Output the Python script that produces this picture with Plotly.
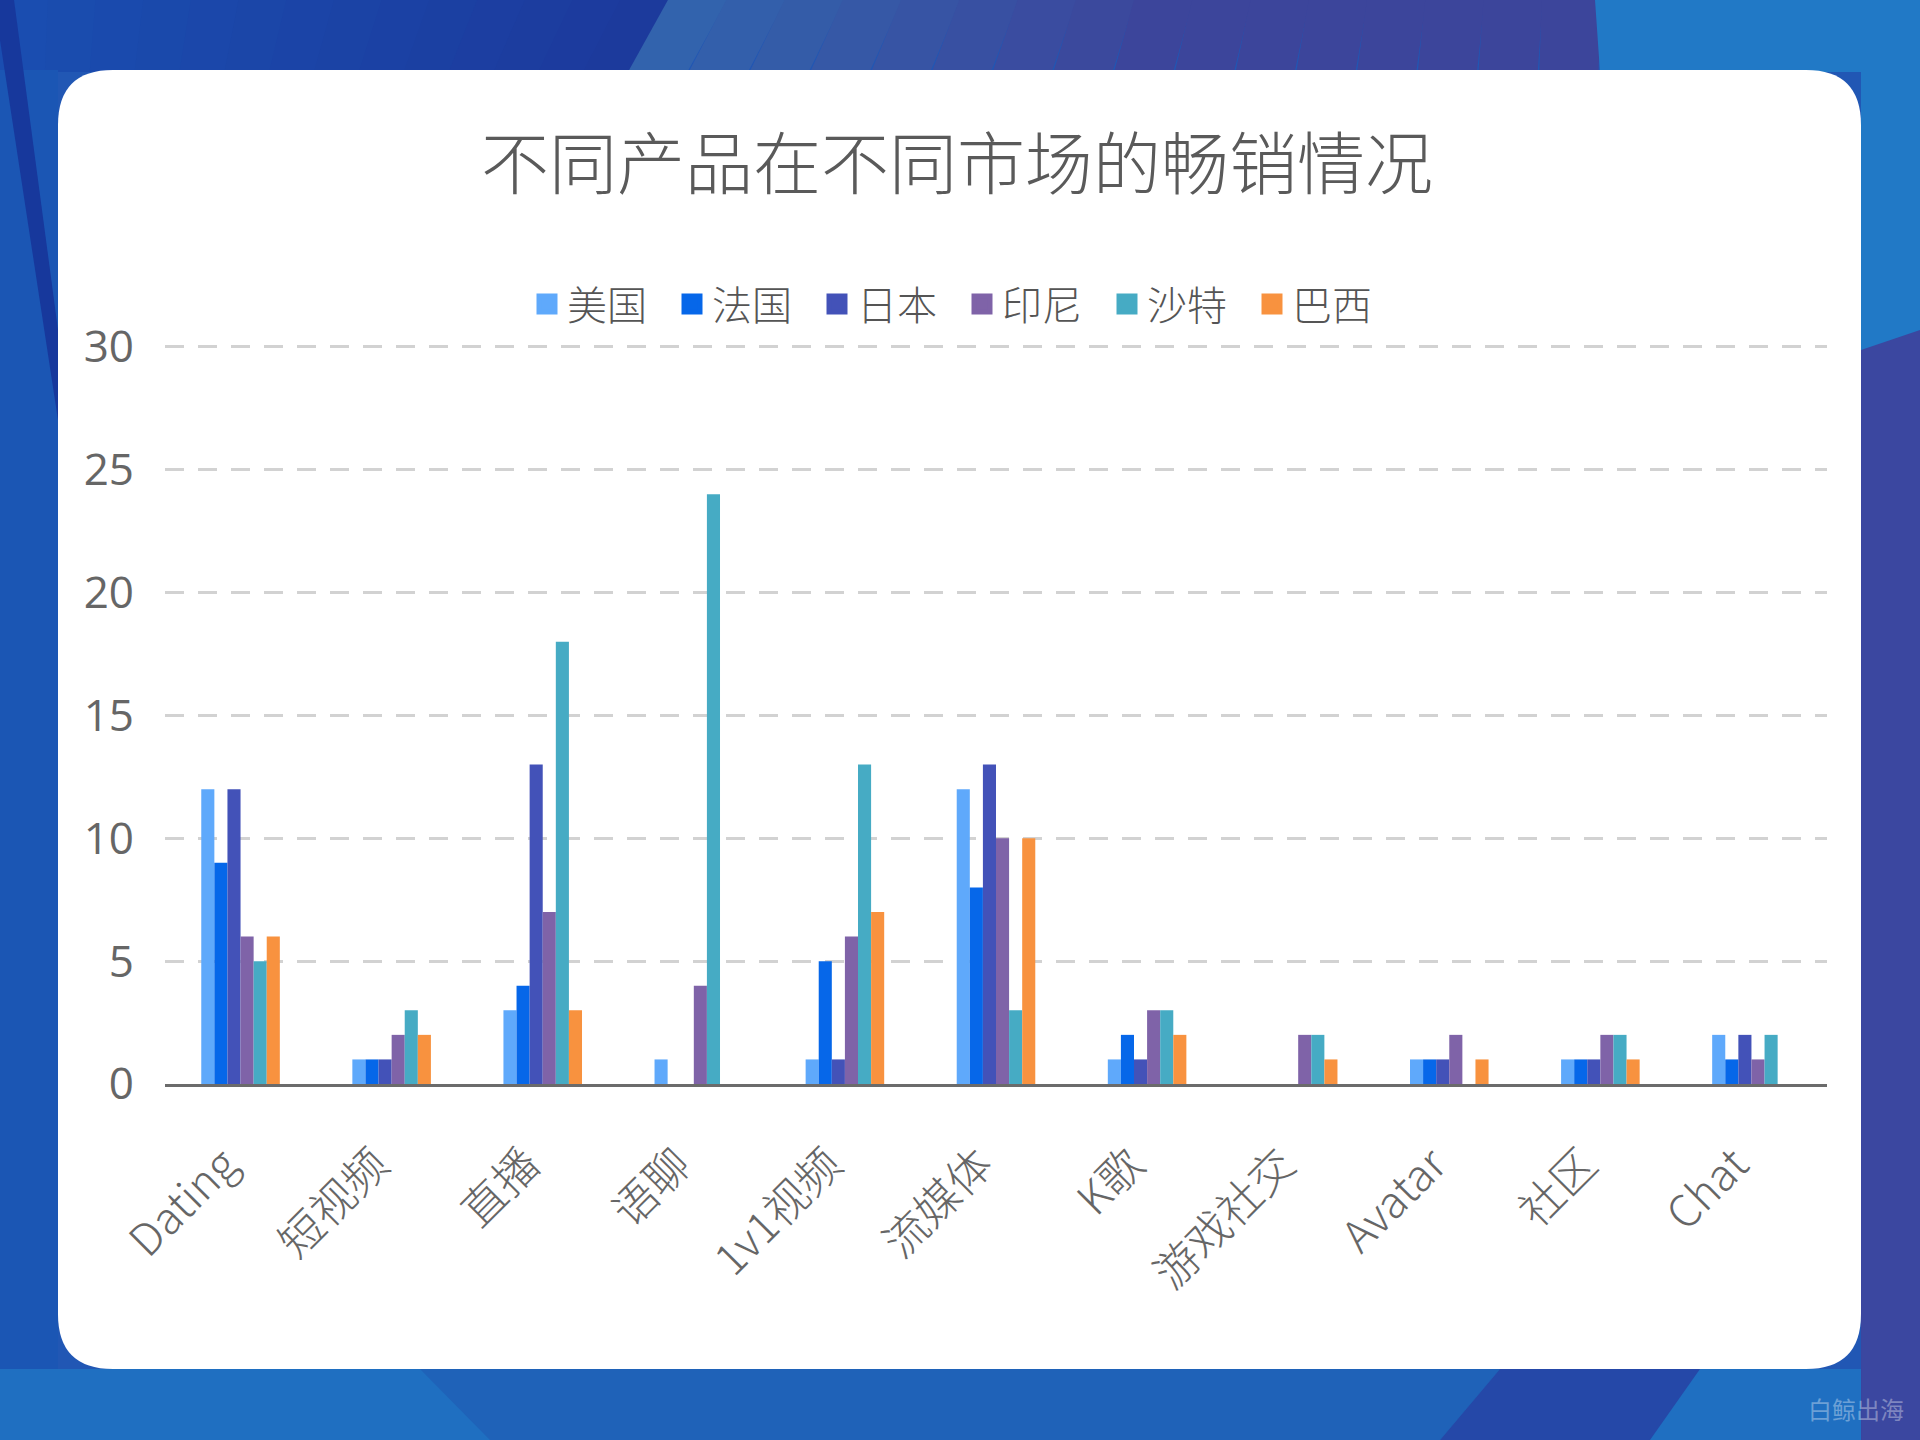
import plotly.graph_objects as go

categories = ["Dating", "短视频", "直播", "语聊", "1v1视频", "流媒体", "K歌", "游戏社交", "Avatar", "社区", "Chat"]
series_names = ["美国", "法国", "日本", "印尼", "沙特", "巴西"]
us = [12, 1, 3, 1, 1, 12, 1, 0, 1, 1, 2]
fr = [9, 1, 4, 0, 5, 8, 2, 0, 1, 1, 1]
jp = [12, 1, 13, 0, 1, 13, 1, 0, 1, 1, 2]
idn = [6, 2, 7, 4, 6, 10, 3, 2, 2, 2, 1]
sa = [5, 3, 18, 24, 13, 3, 3, 2, 0, 2, 2]
br = [6, 2, 3, 0, 7, 10, 2, 1, 1, 1, 0]
series_values = [us, fr, jp, idn, sa, br]
colors = ["#5fa9fb", "#0667e9", "#4352b8", "#7f63a8", "#46abc4", "#f8923f"]
y_ticks = [0, 5, 10, 15, 20, 25, 30]

W, H = 1920, 1440
Y_MAX = 30.2
L, R, B = 165, 1827, 1084
T = B - (B - 347) * Y_MAX / 30  # so that 30 sits at y=347


def px(x):
    return (x - L) / (R - L)


def py(y):
    return (B - y) / (B - T)


def poly(points):
    return "M " + " L ".join(f"{px(x):.5f},{py(y):.5f}" for x, y in points) + " Z"


def rounded_rect(x0, y0, x1, y1, r):
    rx = r / (R - L)
    ry = r / (B - T)
    X0, X1 = px(x0), px(x1)
    Y0, Y1 = py(y0), py(y1)
    return (f"M {X0+rx},{Y0} L {X1-rx},{Y0} Q {X1},{Y0} {X1},{Y0-ry} "
            f"L {X1},{Y1+ry} Q {X1},{Y1} {X1-rx},{Y1} L {X0+rx},{Y1} "
            f"Q {X0},{Y1} {X0},{Y1+ry} L {X0},{Y0-ry} Q {X0},{Y0} {X0+rx},{Y0} Z")


def lerp_color(c1, c2, t):
    a = [int(c1[i:i+2], 16) for i in (1, 3, 5)]
    b = [int(c2[i:i+2], 16) for i in (1, 3, 5)]
    return "#" + "".join(f"{round(a[i] + (b[i]-a[i])*t):02x}" for i in range(3))


shapes = []


def add(path, color):
    shapes.append(dict(type="path", path=path, xref="paper", yref="paper",
                       fillcolor=color, line=dict(width=0), layer="below"))


# background pieces
add(poly([(0, 0), (W, 0), (W, H), (0, H)]), "#2157b4")
n = 14
for i in range(n):
    xa = i * 668 / n
    xb = (i + 1) * 668 / n + 1
    add(poly([(xa, 0), (xb, 0), (xb - 40 * (xb / 668), 72), (xa - 40 * (xa / 668), 72)]),
        lerp_color("#1a4db0", "#1c3a9c", i / (n - 1)))
add(poly([(0, 70), (58, 70), (58, 1369), (0, 1369)]), "#1b56b4")
add(poly([(0, 0), (14, 0), (58, 330), (58, 420), (0, 40)]), "#17389c")
n = 16
x_start, x_end = 668, 1600
for i in range(n):
    xa = x_start + i * (x_end - x_start) / n
    xb = x_start + (i + 1) * (x_end - x_start) / n + 1
    t = min(1.0, i / (n * 0.5))
    add(poly([(xa, 0), (xb, 0), (xb - 40 + 40 * i / n, 72), (xa - 40 + 40 * i / n, 72)]),
        lerp_color("#3263ad", "#3c459b", t))
add(poly([(1595, 0), (W, 0), (W, 350), (1861, 350), (1861, 72), (1600, 72)]), "#2179c6")
add(poly([(1861, 350), (W, 330), (W, H), (1861, H)]), "#3b47a0")
add(poly([(0, 1369), (1861, 1369), (1861, H), (0, H)]), "#1f6fc1")
add(poly([(420, 1369), (1500, 1369), (1440, H), (490, H)]), "#1f62b8")
add(poly([(1500, 1369), (1700, 1369), (1650, H), (1440, H)]), "#2548a8")
add(rounded_rect(58, 70, 1861, 1369, 55), "#ffffff")

fig = go.Figure()
for name, vals, col in zip(series_names, series_values, colors):
    fig.add_trace(go.Bar(name=name, x=categories, y=vals, marker_color=col,
                         marker_line_width=0, showlegend=False))
    fig.add_trace(go.Scatter(name=name, x=[None], y=[None], mode="markers",
                             marker=dict(symbol="square", size=16, color=col,
                                         line=dict(width=10, color=col)),
                             showlegend=True, hoverinfo="skip"))

font_family = "Noto Sans CJK SC, Noto Sans, sans-serif"

fig.update_layout(
    width=W, height=H,
    margin=dict(l=L, r=W - R, t=T, b=H - B, pad=0),
    paper_bgcolor="#2157b4",
    plot_bgcolor="rgba(0,0,0,0)",
    barmode="group",
    bargap=0.48,
    bargroupgap=0,
    shapes=shapes,
    title=dict(text="不同产品在不同市场的畅销情况", x=px(957), xref="paper", xanchor="center",
               y=1 - 165 / H, yanchor="middle",
               font=dict(family=font_family, size=68, color="#5a5a5a", weight=300)),
    legend=dict(orientation="h", x=px(962), xanchor="center", y=py(304), yanchor="middle",
                font=dict(family=font_family, size=40, color="#555555", weight=300),
                bgcolor="rgba(0,0,0,0)", itemwidth=30, traceorder="normal",
                entrywidth=100, entrywidthmode="pixels"),
    font=dict(family=font_family, color="#666666"),
    annotations=[dict(text="白鲸出海", xref="paper", yref="paper", x=px(1906), y=py(1408),
                      xanchor="right", yanchor="middle", showarrow=False,
                      font=dict(family=font_family, size=24, color="rgba(255,255,255,0.35)"))],
)

fig.update_yaxes(range=[0, Y_MAX], tickvals=y_ticks, showgrid=True, gridcolor="#d2d2d2",
                 griddash="19px,14px", gridwidth=3, zeroline=False, showline=False,
                 tickfont=dict(family="Open Sans, sans-serif", size=44, color="#666666"),
                 ticklabelstandoff=30, fixedrange=True)
fig.update_xaxes(showgrid=False, showline=True, linecolor="#6b6b6b", linewidth=3,
                 tickangle=-45, ticks="",
                 tickfont=dict(family=font_family, size=44, color="#666666", weight=300),
                 ticklabelstandoff=34, ticklabelshift=-16, fixedrange=True)

fig.write_html("out.html", config={"displayModeBar": False},
               post_script="document.body.style.margin='0';")
